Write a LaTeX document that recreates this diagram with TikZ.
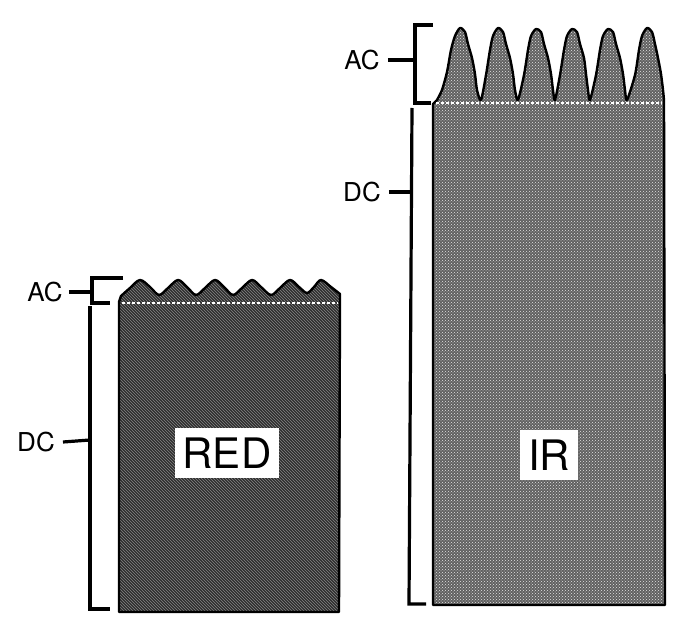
\documentclass[tikz,border=0pt]{standalone}
\usepackage{fontspec}
\setmainfont{TeX Gyre Heros}
\usetikzlibrary{patterns}
\begin{document}
\begin{tikzpicture}[x=1pt,y=-1pt,
  brk/.style={line width=3.2pt,line cap=butt,line join=miter},
  lbl/.style={font=\fontsize{26}{30}\selectfont,inner sep=0pt,anchor=center},
  big/.style={font=\fontsize{42}{46}\selectfont,inner sep=0pt,fill=white,minimum height=50pt,anchor=center},
  redblock/.style={preaction={fill=black!82},preaction={pattern=north west lines,pattern color=black!48},draw=black,line width=2.4pt,line join=round},
  irblock/.style={preaction={fill=black!62},preaction={pattern=crosshatch dots,pattern color=white!90!black},draw=black,line width=2.4pt,line join=round},
  sep/.style={draw=white,line width=2pt,dash pattern=on 3pt off 2pt}]
\useasboundingbox (0,0) rectangle (683,631);

% ---------- RED block ----------
\path[redblock]
  (119,612) -- (119,302) -- plot[smooth,tension=0.55] coordinates {
   (121,296) (130,288) (140,280) (150,287) (159,295) (168,288) (178,280) (187,287) (196,295)
   (205,288) (215,280) (224,287) (233,295) (242,288) (252,280) (261,287) (271,295)
   (280,288) (290,280) (299,287) (307,293) (314,287) (321,280) (331,287) (340,294)}
  -- (339,612) -- cycle;
\coordinate (rsl) at (122,303);
\coordinate (rsr) at (338,303);
\draw[sep] (rsl) -- (rsr);
\node[big,minimum width=104pt] (red) at (227,453) {RED};

% RED brackets
\coordinate (rA1) at (123,278);
\coordinate (rA0) at (92,278);
\coordinate (rA2) at (92,303);
\coordinate (rA3) at (110,303);
\coordinate (rD0) at (90,306);
\coordinate (rD1) at (90,609);
\coordinate (rD2) at (110,609);
\draw[brk] (rA1) -- (rA0) -- (rA2) -- (rA3);
\draw[brk] (rD0) -- (rD1) -- (rD2);
\node[lbl] (acL) at (45,292) {AC};
\node[lbl] (dcL) at (36,442) {DC};
\coordinate (acLt) at (92,292);
\coordinate (dcLt) at (90,440);
\draw[brk] ([xshift=6pt]acL.east) -- (acLt);
\draw[brk] ([xshift=8pt]dcL.east) -- (dcLt);

% ---------- IR block ----------
\path[irblock] (433,605) -- (433,104) -- plot[smooth,tension=0.45] coordinates {
   (437,100) (442,90) (447,72) (451,50) (455,36) (460,28) (465,32) (468,44) (472,58) (475,74) (477,90) (481,100)
   (486,75) (490,50) (493,36) (498,28) (503,32) (506,44) (510,58) (513,74) (515,90) (518,100)
   (524,75) (528,50) (531,36) (536,29) (541,32) (544,44) (548,58) (551,74) (553,90) (555,100)
   (560,75) (564,50) (567,36) (572,29) (577,32) (580,44) (584,58) (586,74) (588,90) (590,100)
   (596,75) (600,50) (603,36) (608,29) (613,32) (616,44) (620,58) (623,74) (625,90) (627,100)
   (635,75) (639,50) (642,36) (647,28) (652,32) (655,44) (658,58) (661,74) (663,90) (664,100)}
  -- (665,605) -- cycle;
\coordinate (isl) at (436,103);
\coordinate (isr) at (662,103);
\draw[sep] (isl) -- (isr);
\node[big,minimum width=58pt] (ir) at (549,455) {IR};

% IR brackets
\coordinate (iA1) at (433,25);
\coordinate (iA0) at (415,25);
\coordinate (iA2) at (415,103);
\coordinate (iA3) at (431,103);
\coordinate (iD0) at (412,108);
\coordinate (iD1) at (409,604);
\coordinate (iD2) at (426,604);
\draw[brk] (iA1) -- (iA0) -- (iA2) -- (iA3);
\draw[brk] (iD0) -- (iD1) -- (iD2);
\node[lbl] (acR) at (362,60) {AC};
\node[lbl] (dcR) at (362,192) {DC};
\coordinate (acRt) at (415,60);
\coordinate (dcRt) at (411,192);
\draw[brk] ([xshift=8pt]acR.east) -- (acRt);
\draw[brk] ([xshift=8pt]dcR.east) -- (dcRt);
\end{tikzpicture}
\end{document}
